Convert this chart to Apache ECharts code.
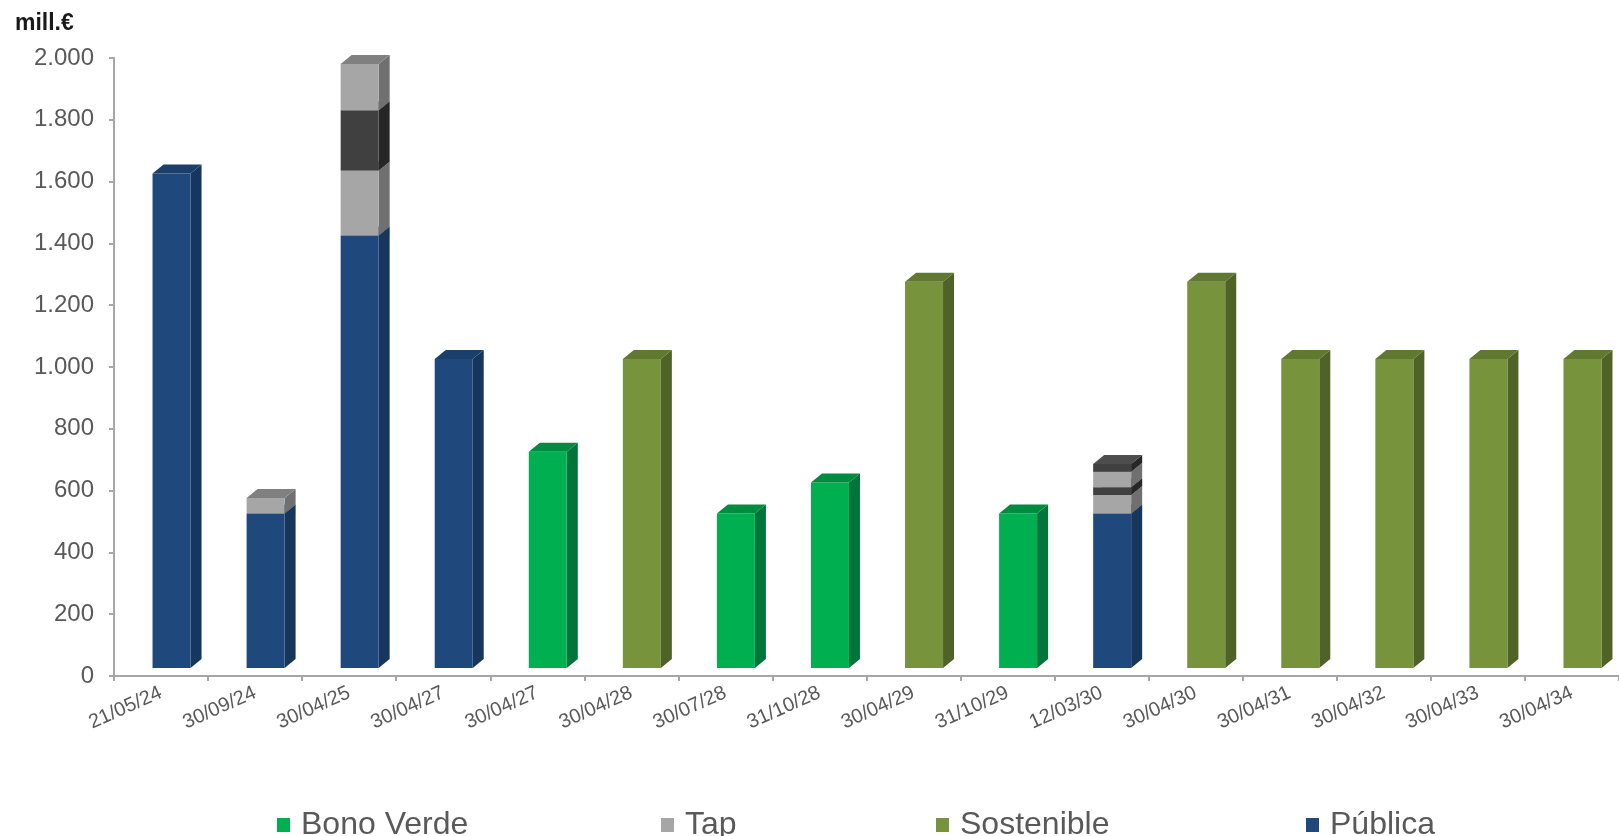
<!DOCTYPE html>
<html>
<head>
<meta charset="utf-8">
<script src="https://cdn.jsdelivr.net/npm/echarts@6/dist/echarts.min.js"></script>
<style>
  html, body { margin: 0; padding: 0; background: #fff; }
  #chart { width: 1619px; height: 836px; }
</style>
</head>
<body>
<div id="chart"></div>
<script>
// vencimientos (mill.€)
const categories = ['21/05/24', '30/09/24', '30/04/25', '30/04/27', '30/04/27', '30/04/28', '30/07/28', '31/10/28',
  '30/04/29', '31/10/29', '12/03/30', '30/04/30', '30/04/31', '30/04/32', '30/04/33', '30/04/34']

const publica    = [1600, 500, 1400, 1000, 0, 0, 0, 0, 0, 0, 500, 0, 0, 0, 0, 0]
const bonoVerde  = [0, 0, 0, 0, 700, 0, 500, 600, 0, 500, 0, 0, 0, 0, 0, 0]
const sostenible = [0, 0, 0, 0, 0, 1000, 0, 0, 1250, 0, 0, 1250, 1000, 1000, 1000, 1000]
const tap1       = [0, 50, 210, 0, 0, 0, 0, 0, 0, 0, 60, 0, 0, 0, 0, 0]
const tapOscuro1 = [0, 0, 195, 0, 0, 0, 0, 0, 0, 0, 25, 0, 0, 0, 0, 0]
const tap2       = [0, 0, 150, 0, 0, 0, 0, 0, 0, 0, 50, 0, 0, 0, 0, 0]
const tapOscuro2 = [0, 0, 0, 0, 0, 0, 0, 0, 0, 0, 25, 0, 0, 0, 0, 0]

const yTicks = [0, 200, 400, 600, 800, 1000, 1200, 1400, 1600, 1800, 2000]

const FONT = '"Liberation Sans", Arial, sans-serif'
const TEXT = '#595959'
const AXIS = '#a6a6a6'

// stack layers bottom -> top
const layers = [
  { name: 'Pública', values: publica, face: '#1F497D', side: '#16365C', top: '#1B3F6B' },
  { name: 'Bono Verde', values: bonoVerde, face: '#00B050', side: '#00743A', top: '#008C40' },
  { name: 'Sostenible', values: sostenible, face: '#77933C', side: '#4F6228', top: '#607830' },
  { name: 'Tap', values: tap1, face: '#A6A6A6', side: '#707070', top: '#808080' },
  { name: 'Tap oscuro', values: tapOscuro1, face: '#404040', side: '#262626', top: '#4D4D4D' },
  { name: 'Tap', values: tap2, face: '#A6A6A6', side: '#707070', top: '#808080' },
  { name: 'Tap oscuro', values: tapOscuro2, face: '#404040', side: '#262626', top: '#4D4D4D' }
]

const fmt = v => String(v).replace(/\B(?=(\d{3})+(?!\d))/g, '.')

// 3D column segment: front face, right side, top
const makeRender = (face, side, top) => (params, api) => {
  const i = api.value(0)
  const v0 = api.value(1)
  const v1 = api.value(2)
  if (v1 <= v0) return
  const p1 = api.coord([i, v1])
  const p0 = api.coord([i, v0])
  const w = 38, dx = 11, dy = 9
  const xl = p1[0] - 8.5
  const xr = xl + w
  const yt = p1[1] - 8
  const yb = p0[1] - 8
  return {
    type: 'group',
    children: [
      { type: 'polygon', shape: { points: [[xr, yb], [xr, yt], [xr + dx, yt - dy], [xr + dx, yb - dy]] }, style: { fill: side } },
      { type: 'rect', shape: { x: xl, y: yt, width: w, height: yb - yt }, style: { fill: face } },
      { type: 'polygon', shape: { points: [[xl, yt], [xl + dx, yt - dy], [xr + dx, yt - dy], [xr, yt]] }, style: { fill: top } }
    ]
  }
}

const base = categories.map(() => 0)
const series = layers.map(l => {
  const data = l.values.map((v, i) => {
    const item = [i, base[i], base[i] + v]
    base[i] += v
    return item
  })
  return {
    type: 'custom',
    name: l.name,
    itemStyle: { color: l.face },
    renderItem: makeRender(l.face, l.side, l.top),
    encode: { x: 0, y: [1, 2] },
    data
  }
})

const legendItem = (name, left) => ({
  data: [name],
  left,
  top: 809,
  padding: 0,
  icon: 'rect',
  itemWidth: 13,
  itemHeight: 14,
  textStyle: { fontFamily: FONT, fontSize: 32, color: TEXT, padding: [0, 0, 0, 6] }
})

const chart = echarts.init(document.getElementById('chart'), undefined, { renderer: 'canvas' })
chart.setOption({
  animation: false,
  backgroundColor: '#fff',
  title: {
    text: 'mill.€',
    left: 15,
    top: 12,
    padding: 0,
    textStyle: { fontFamily: FONT, fontSize: 23, fontWeight: 'bold', color: '#1a1a1a' }
  },
  legend: [
    legendItem('Bono Verde', 277),
    legendItem('Tap', 661),
    legendItem('Sostenible', 936),
    legendItem('Pública', 1306)
  ],
  grid: { left: 114, top: 58, width: 1515, height: 618 },
  xAxis: {
    type: 'category',
    data: categories,
    axisLine: { lineStyle: { color: AXIS, width: 2 } },
    axisTick: { show: true, interval: 0, length: 5, lineStyle: { color: AXIS, width: 2 } },
    axisLabel: { interval: 0, rotate: 24, margin: 16, fontFamily: FONT, fontSize: 20, color: TEXT }
  },
  yAxis: {
    type: 'value',
    min: yTicks[0],
    max: yTicks[yTicks.length - 1],
    interval: yTicks[1] - yTicks[0],
    splitLine: { show: false },
    axisLine: { show: true, lineStyle: { color: AXIS, width: 2 } },
    axisTick: { show: true, length: 5, lineStyle: { color: AXIS, width: 2 } },
    axisLabel: { margin: 20, fontFamily: FONT, fontSize: 24, color: TEXT, formatter: fmt }
  },
  series
})
</script>
</body>
</html>
